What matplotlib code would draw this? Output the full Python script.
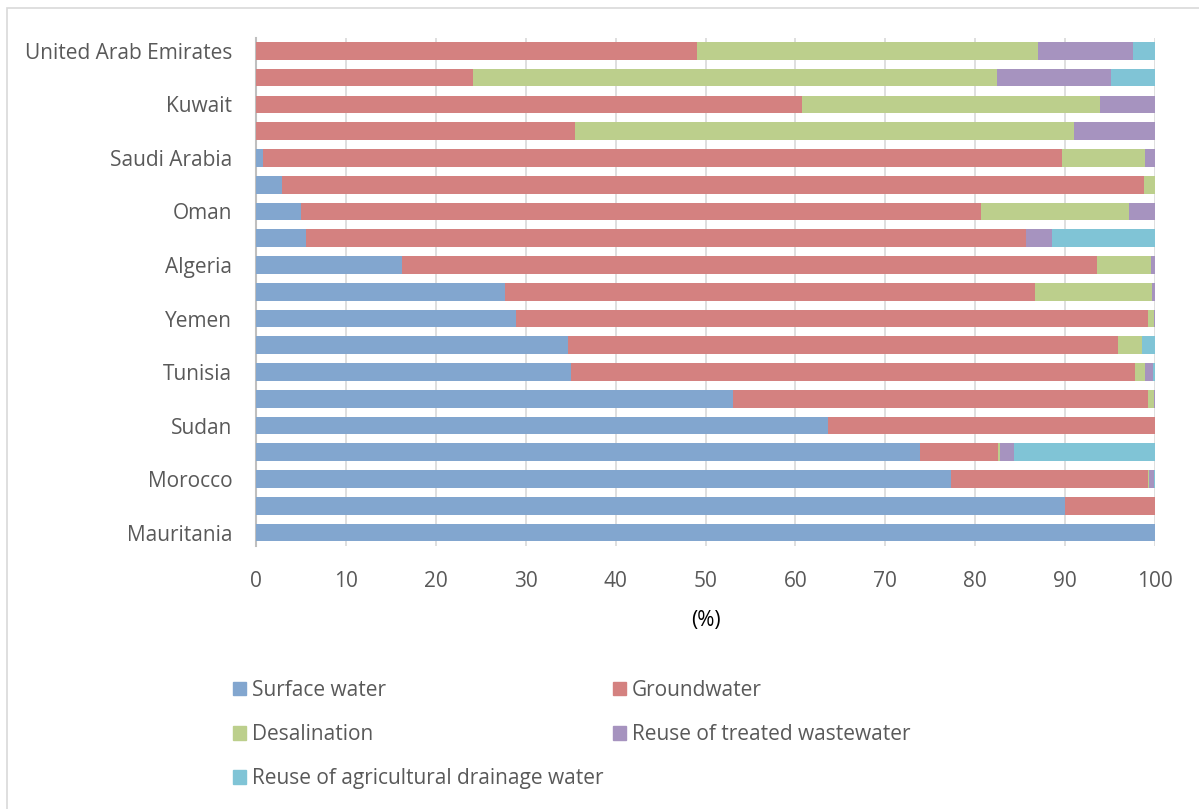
import matplotlib
matplotlib.use("Agg")
import matplotlib.pyplot as plt
from matplotlib.patches import Rectangle
import numpy as np

plt.rcParams['font.family'] = ['Open Sans', 'DejaVu Sans']

countries = ["United Arab Emirates", "Qatar", "Kuwait", "Bahrain", "Saudi Arabia",
             "Libya", "Oman", "Jordan", "Algeria", "Palestine", "Yemen", "Syria",
             "Tunisia", "Lebanon", "Sudan", "Egypt", "Morocco", "Iraq", "Mauritania"]
shown_labels = [c if i % 2 == 0 else "" for i, c in enumerate(countries)]

surface = [0, 0, 0, 0, 0.8, 2.9, 5.0, 5.6, 16.2, 27.7, 28.9, 34.7, 35.0, 53.1, 63.6, 73.9, 77.3, 90.0, 100]
ground = [49.1, 24.1, 60.7, 35.5, 88.9, 95.9, 75.7, 80.0, 77.3, 58.9, 70.3, 61.2, 62.8, 46.1, 36.4, 8.6, 21.9, 10.0, 0]
desal = [37.9, 58.3, 33.2, 55.5, 9.2, 1.2, 16.4, 0.1, 6.1, 13.1, 0.7, 2.6, 1.1, 0.7, 0, 0.3, 0.1, 0, 0]
reuse_ww = [10.5, 12.7, 6.1, 9.0, 1.1, 0, 2.9, 2.8, 0.4, 0.3, 0.1, 0.0, 0.9, 0.1, 0, 1.5, 0.6, 0, 0]
reuse_ag = [2.5, 4.9, 0, 0, 0, 0, 0, 11.5, 0, 0, 0, 1.5, 0.2, 0, 0, 15.7, 0.1, 0, 0]

series_names = ["Surface water", "Groundwater", "Desalination",
                "Reuse of treated wastewater", "Reuse of agricultural drainage water"]
colors = ["#82a6cf", "#d48180", "#bccf8c", "#a693bf", "#80c4d6"]
x_ticks = [0, 10, 20, 30, 40, 50, 60, 70, 80, 90, 100]

fig = plt.figure(figsize=(11.99, 8.09), dpi=100)
W, H = 1199, 809
ax = fig.add_axes([256 / W, 1 - 546 / H, (1155 - 256) / W, (546 - 37.5) / H])

y = np.arange(len(countries))
data = [surface, ground, desal, reuse_ww, reuse_ag]
left = np.zeros(len(countries))
for vals, name, col in zip(data, series_names, colors):
    v = np.array(vals, dtype=float)
    ax.barh(y, v, left=left, height=0.66, color=col, label=name, zorder=3,
            edgecolor='none')
    left += v

ax.set_ylim(len(countries) - 0.5, -0.5)
ax.set_xlim(0, 100)
ax.set_yticks(y)
ax.set_yticklabels(shown_labels, fontsize=15, color="#595959")
ax.set_xticks(x_ticks)
ax.set_xticklabels([str(t) for t in x_ticks], fontsize=15, color="#595959")
ax.tick_params(axis='y', length=0, pad=17)
ax.tick_params(axis='x', length=0, pad=18)
ax.grid(axis='x', color="#d9d9d9", linewidth=1.2, zorder=0)
for s in ["top", "right", "bottom"]:
    ax.spines[s].set_visible(False)
ax.spines["left"].set_color("#bfbfbf")
ax.spines["left"].set_linewidth(1.5)
ax.set_xlabel("(%)", fontsize=15, color="black", labelpad=13)

# legend: two columns placed explicitly (row-major reading order)
leg_kw = dict(loc="upper left", frameon=False, fontsize=15, labelcolor="#595959",
              handlelength=0.62, handleheight=0.62, handletextpad=0.3,
              labelspacing=1.12)
col1 = [0, 2, 4]
col2 = [1, 3]
fig.legend([Rectangle((0, 0), 1, 1, color=colors[i]) for i in col1],
           [series_names[i] for i in col1],
           bbox_to_anchor=(214 / W, 1 - 661 / H), **leg_kw)
fig.legend([Rectangle((0, 0), 1, 1, color=colors[i]) for i in col2],
           [series_names[i] for i in col2],
           bbox_to_anchor=(594 / W, 1 - 661 / H), **leg_kw)

# outer border
fig.patches.append(Rectangle((7 / W, -0.02), (W + 10) / W, 1 - 8 / H + 0.02,
                             transform=fig.transFigure, fill=False,
                             edgecolor="#d9d9d9", linewidth=1.2))

fig.savefig("out.png", dpi=100)
